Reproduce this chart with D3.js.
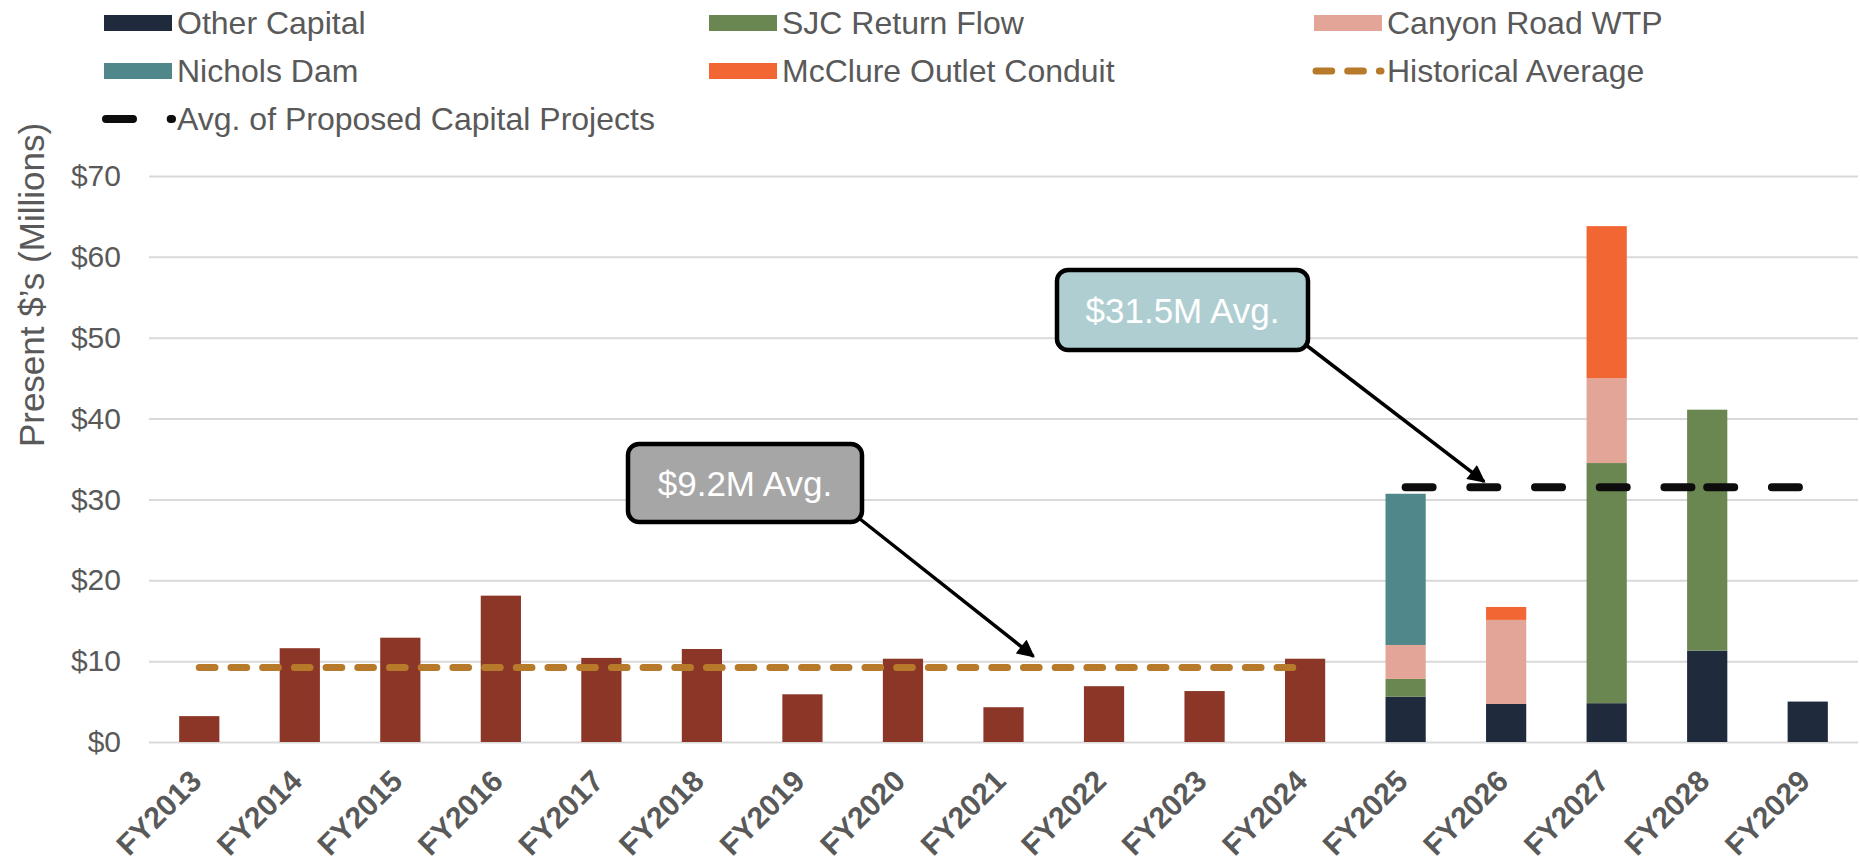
<!DOCTYPE html>
<html>
<head>
<meta charset="utf-8">
<script src="https://cdn.jsdelivr.net/npm/d3@7"></script>
<style>
  html, body { margin: 0; padding: 0; background: #ffffff; }
  svg { display: block; font-family: Arial, "Liberation Sans", sans-serif; }
</style>
</head>
<body>
<svg id="chart" width="1860" height="861"></svg>
<script>
// ---------------- DATA ----------------
const categories = ["FY2013","FY2014","FY2015","FY2016","FY2017","FY2018","FY2019","FY2020","FY2021","FY2022","FY2023","FY2024","FY2025","FY2026","FY2027","FY2028","FY2029"];
const historical = [3.2, 11.6, 12.9, 18.1, 10.4, 11.5, 5.9, 10.3, 4.3, 6.9, 6.3, 10.3, 0, 0, 0, 0, 0];
const otherCapital = [0,0,0,0,0,0,0,0,0,0,0,0, 5.6, 4.7, 4.8, 11.3, 5.0];
const sjcReturnFlow = [0,0,0,0,0,0,0,0,0,0,0,0, 2.2, 0, 29.7, 29.8, 0];
const canyonRoadWTP = [0,0,0,0,0,0,0,0,0,0,0,0, 4.2, 10.4, 10.5, 0, 0];
const nicholsDam = [0,0,0,0,0,0,0,0,0,0,0,0, 18.7, 0, 0, 0, 0];
const mcClureOutlet = [0,0,0,0,0,0,0,0,0,0,0,0, 0, 1.6, 18.8, 0, 0];
const historicalAvgCats = ["FY2013","FY2014","FY2015","FY2016","FY2017","FY2018","FY2019","FY2020","FY2021","FY2022","FY2023","FY2024"];
const historicalAvg = 9.2;
const proposedAvgSegments = [["FY2025","FY2026","FY2027","FY2028"],["FY2028","FY2029"]];
const proposedAvg = 31.5;
const yTicks = [0, 10, 20, 30, 40, 50, 60, 70];
const yTickLabels = ["$0","$10","$20","$30","$40","$50","$60","$70"];
const yTitle = "Present $\u2019s (Millions)";
const calloutTexts = ["$9.2M Avg.", "$31.5M Avg."];

const stackKeys = ["Other Capital","SJC Return Flow","Canyon Road WTP","Nichols Dam","McClure Outlet Conduit"];
const stackSeries = [otherCapital, sjcReturnFlow, canyonRoadWTP, nicholsDam, mcClureOutlet];
const colors = {
  "Other Capital": "#1F2A3C",
  "SJC Return Flow": "#6A8751",
  "Canyon Road WTP": "#E3A597",
  "Nichols Dam": "#4F878A",
  "McClure Outlet Conduit": "#F26633",
  "Historical": "#8B3626",
  "Historical Average": "#B7792A",
  "Avg. of Proposed Capital Projects": "#0D0D0D"
};

// ---------------- LAYOUT ----------------
const svg = d3.select("#chart");
const plotLeft = 149, plotRight = 1858, plotTop = 176, plotBottom = 742;
const textColor = "#595959";
const fontFam = "Arial, 'Liberation Sans', sans-serif";

const x = d3.scaleBand().domain(categories).range([plotLeft, plotRight]).paddingInner(0.6).paddingOuter(0.3);
const y = d3.scaleLinear().domain([0, 70]).range([plotBottom, plotTop]);
const cx = c => x(c) + x.bandwidth() / 2;

// gridlines + y tick labels
const yAxis = d3.axisLeft(y).tickValues(yTicks).tickSize(-(plotRight - plotLeft)).tickFormat((d, i) => yTickLabels[i]).tickPadding(28);
const gy = svg.append("g").attr("transform", `translate(${plotLeft},0)`).call(yAxis);
gy.select(".domain").remove();
gy.selectAll(".tick line").attr("stroke", "#D9D9D9").attr("stroke-width", 2);
gy.selectAll(".tick text").attr("fill", textColor).attr("font-size", 30).attr("font-family", fontFam);

// x axis labels
const xAxis = d3.axisBottom(x).tickSize(0).tickPadding(0);
const gx = svg.append("g").attr("transform", `translate(0,${plotBottom})`).call(xAxis);
gx.select(".domain").remove();
gx.selectAll(".tick text")
  .attr("fill", textColor).attr("font-size", 30).attr("font-weight", "bold")
  .attr("font-family", fontFam)
  .attr("text-anchor", "end").attr("dy", null).attr("y", 0)
  .attr("transform", "translate(4,41) rotate(-45)");

// historical bars
svg.append("g").selectAll("rect").data(categories.map((c, i) => ({c, v: historical[i]})).filter(d => d.v > 0))
  .join("rect")
  .attr("x", d => x(d.c)).attr("width", x.bandwidth())
  .attr("y", d => y(d.v)).attr("height", d => y(0) - y(d.v))
  .attr("fill", colors["Historical"]);

// stacked bars
const tableRows = categories.map((c, i) => {
  const r = {cat: c};
  stackKeys.forEach((k, j) => r[k] = stackSeries[j][i]);
  return r;
});
const stacked = d3.stack().keys(stackKeys)(tableRows);
svg.append("g").selectAll("g").data(stacked).join("g")
  .attr("fill", s => colors[s.key])
  .selectAll("rect").data(s => s.filter(d => d[1] - d[0] > 0))
  .join("rect")
  .attr("x", d => x(d.data.cat)).attr("width", x.bandwidth())
  .attr("y", d => y(d[1])).attr("height", d => y(d[0]) - y(d[1]));

// historical average line
const line = d3.line().x(d => cx(d.c)).y(d => y(d.v));
svg.append("path")
  .attr("d", line(historicalAvgCats.map(c => ({c, v: historicalAvg}))))
  .attr("fill", "none").attr("stroke", colors["Historical Average"]).attr("stroke-width", 7)
  .attr("stroke-dasharray", "15.7 16").attr("stroke-linecap", "round");

// proposed average line
proposedAvgSegments.forEach(seg => {
  svg.append("path")
    .attr("d", line(seg.map(c => ({c, v: proposedAvg}))))
    .attr("fill", "none").attr("stroke", colors["Avg. of Proposed Capital Projects"]).attr("stroke-width", 8)
    .attr("stroke-dasharray", "27 37.7").attr("stroke-linecap", "round");
});

// y title
svg.append("text").attr("transform", "translate(31,285) rotate(-90)")
  .attr("text-anchor", "middle").attr("dominant-baseline", "central")
  .attr("fill", textColor).attr("font-size", 35).attr("font-family", fontFam).text(yTitle);

// legend
const legendItems = [
  {name: "Other Capital", type: "rect", col: 0, row: 0},
  {name: "SJC Return Flow", type: "rect", col: 1, row: 0},
  {name: "Canyon Road WTP", type: "rect", col: 2, row: 0},
  {name: "Nichols Dam", type: "rect", col: 0, row: 1},
  {name: "McClure Outlet Conduit", type: "rect", col: 1, row: 1},
  {name: "Historical Average", type: "hline", col: 2, row: 1},
  {name: "Avg. of Proposed Capital Projects", type: "pline", col: 0, row: 2}
];
const colX = [104, 709, 1314], rowY = [23, 71, 119];
const lg = svg.append("g");
legendItems.forEach(it => {
  const lx = colX[it.col], ly = rowY[it.row];
  if (it.type === "rect") {
    lg.append("rect").attr("x", lx).attr("y", ly - 8).attr("width", 68).attr("height", 16).attr("fill", colors[it.name]);
  } else if (it.type === "hline") {
    lg.append("line").attr("x1", lx + 2).attr("x2", lx + 67).attr("y1", ly).attr("y2", ly)
      .attr("stroke", colors[it.name]).attr("stroke-width", 7).attr("stroke-linecap", "round").attr("stroke-dasharray", "15.7 16");
  } else {
    lg.append("line").attr("x1", lx + 2).attr("x2", lx + 68).attr("y1", ly).attr("y2", ly)
      .attr("stroke", colors[it.name]).attr("stroke-width", 8).attr("stroke-linecap", "round").attr("stroke-dasharray", "27 37.7");
  }
  lg.append("text").attr("x", lx + 73).attr("y", ly).attr("dominant-baseline", "central")
    .attr("fill", textColor).attr("font-size", 32).attr("font-family", fontFam).text(it.name);
});

// callouts
const defs = svg.append("defs");
defs.append("marker").attr("id", "arrowhead").attr("viewBox", "0 0 10 10").attr("refX", 9).attr("refY", 5)
  .attr("markerWidth", 5.5).attr("markerHeight", 5).attr("orient", "auto").attr("markerUnits", "strokeWidth")
  .append("path").attr("d", "M0,0 L10,5 L0,10 Z").attr("fill", "#000");

const callouts = [
  {text: calloutTexts[0], box: [628, 444, 234, 78], fill: "#A6A6A6", from: [860, 519], to: [cx("FY2021") + 30, y(10.6)]},
  {text: calloutTexts[1], box: [1057, 270, 251, 80], fill: "#AFCED2", from: [1306, 345], to: [cx("FY2026") - 22, y(32.2)]}
];
callouts.forEach(c => {
  svg.append("line").attr("x1", c.from[0]).attr("y1", c.from[1]).attr("x2", c.to[0]).attr("y2", c.to[1])
    .attr("stroke", "#000").attr("stroke-width", 3.5).attr("marker-end", "url(#arrowhead)");
  svg.append("rect").attr("x", c.box[0]).attr("y", c.box[1]).attr("width", c.box[2]).attr("height", c.box[3])
    .attr("rx", 11).attr("fill", c.fill).attr("stroke", "#000").attr("stroke-width", 4.5);
  svg.append("text").attr("x", c.box[0] + c.box[2] / 2).attr("y", c.box[1] + c.box[3] / 2)
    .attr("text-anchor", "middle").attr("dominant-baseline", "central")
    .attr("fill", "#ffffff").attr("font-size", 35).attr("font-family", fontFam).text(c.text);
});
</script>
</body>
</html>
